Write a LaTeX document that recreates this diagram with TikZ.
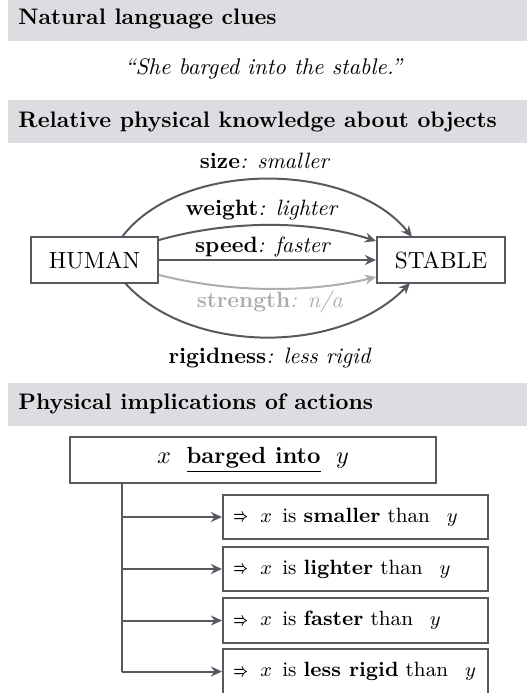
\documentclass[tikz,border=0pt]{standalone}
\usepackage{amsmath}
\usetikzlibrary{arrows.meta}
\definecolor{bargray}{HTML}{DCDDE0}
\definecolor{linegray}{HTML}{565A60}
\definecolor{lightg}{HTML}{ADADAD}
\newcommand{\impar}{\raisebox{0.05ex}{\scalebox{0.62}[0.9]{$\boldsymbol{\Rightarrow}$}}}
\newcommand{\impline}[1]{\makebox[110pt][l]{\fontsize{9.3}{11}\selectfont\impar\hspace{5.6pt}$x$\hspace{4.6pt}is #1 than\hspace{7.6pt}$y$}}
\begin{document}
\begin{tikzpicture}[x=0.45pt,y=-0.45pt,
  hbar/.style={fill=bargray,draw=none},
  htext/.style={anchor=base west,inner sep=0pt,font=\bfseries\fontsize{10.1}{12}\selectfont},
  obj/.style={draw=linegray,line width=0.9pt,minimum height=20.7pt,inner sep=0pt,font=\fontsize{10.5}{12}\selectfont},
  rel/.style={draw=linegray,line width=0.9pt,-{Stealth[length=5pt,width=4.5pt]}},
  lab/.style={anchor=base,inner sep=0pt},
  impl/.style={draw=linegray,line width=0.9pt,minimum width=119.25pt,minimum height=20.2pt,inner ysep=0pt,inner xsep=4.6pt},
  conn/.style={draw=linegray,line width=0.9pt},
  arr/.style={conn,-{Stealth[length=5pt,width=4.5pt]}}]
\useasboundingbox (0,0) rectangle (527,693);
% headers
\fill[hbar] (8,-2) rectangle (527,41);
\node[htext] (h1) at (18,25) {Natural language clues};
\node[anchor=base,inner sep=0pt,font=\fontsize{10.2}{12}\selectfont] (quote) at (264,75) {\textit{``She barged into the stable.''}};
\fill[hbar] (8,100) rectangle (527,143);
\node[htext] (h2) at (18,128) {Relative physical knowledge about objects};
\fill[hbar] (8,383) rectangle (527,426);
\node[htext] (h3) at (18,409) {Physical implications of actions};
% objects
\node[obj,minimum width=57.15pt] (human) at (94.5,260) {HUMAN};
\node[obj,minimum width=57.6pt] (stable) at (441,260) {STABLE};
\coordinate (hs) at (122,237);
\coordinate (se) at (412,237);
\coordinate (hr) at (125,283);
\coordinate (re) at (410,283);
\draw[rel] (hs) .. controls (180,160) and (350,160) .. (se);
\draw[rel] (human.east |- 0,240) .. controls (230,220) and (310,220) .. (stable.west |- 0,241);
\draw[rel] (human.east) -- (stable.west);
\draw[rel,draw=lightg] (human.east |- 0,275) .. controls (230,293) and (310,293) .. (stable.west |- 0,277);
\draw[rel] (hr) .. controls (190,355) and (340,355) .. (re);
\node[lab] (l1) at (265,169) {\textbf{size}\textit{: smaller}};
\node[lab] (l2) at (262,216) {\textbf{weight}\textit{: lighter}};
\node[lab] (l3) at (263,253) {\textbf{speed}\textit{: faster}};
\node[lab,text=lightg] (l4) at (270,307) {\textbf{strength}\textit{: n/a}};
\node[lab] (l5) at (270,363) {\textbf{rigidness}\textit{: less rigid}};
% implications
\node[obj,minimum width=164.7pt] (barged) at (253,460) {$x$ \ \underline{\textbf{barged into}} \ $y$};
\node[impl] (i1) at (355.5,517) {\impline{\textbf{smaller}}};
\node[impl] (i2) at (355.5,569) {\impline{\textbf{lighter}}};
\node[impl] (i3) at (355.5,620.5) {\impline{\textbf{faster}}};
\node[impl] (i4) at (355.5,671.5) {\impline{\textbf{less rigid}}};
\coordinate (vtop) at (122,483);
\coordinate (vbot) at (122,671.5);
\draw[conn] (vtop) -- (vbot);
\draw[arr] (vtop |- i1.west) -- (i1.west);
\draw[arr] (vtop |- i2.west) -- (i2.west);
\draw[arr] (vtop |- i3.west) -- (i3.west);
\draw[arr] (vbot) -- (i4.west);
\end{tikzpicture}
\end{document}
